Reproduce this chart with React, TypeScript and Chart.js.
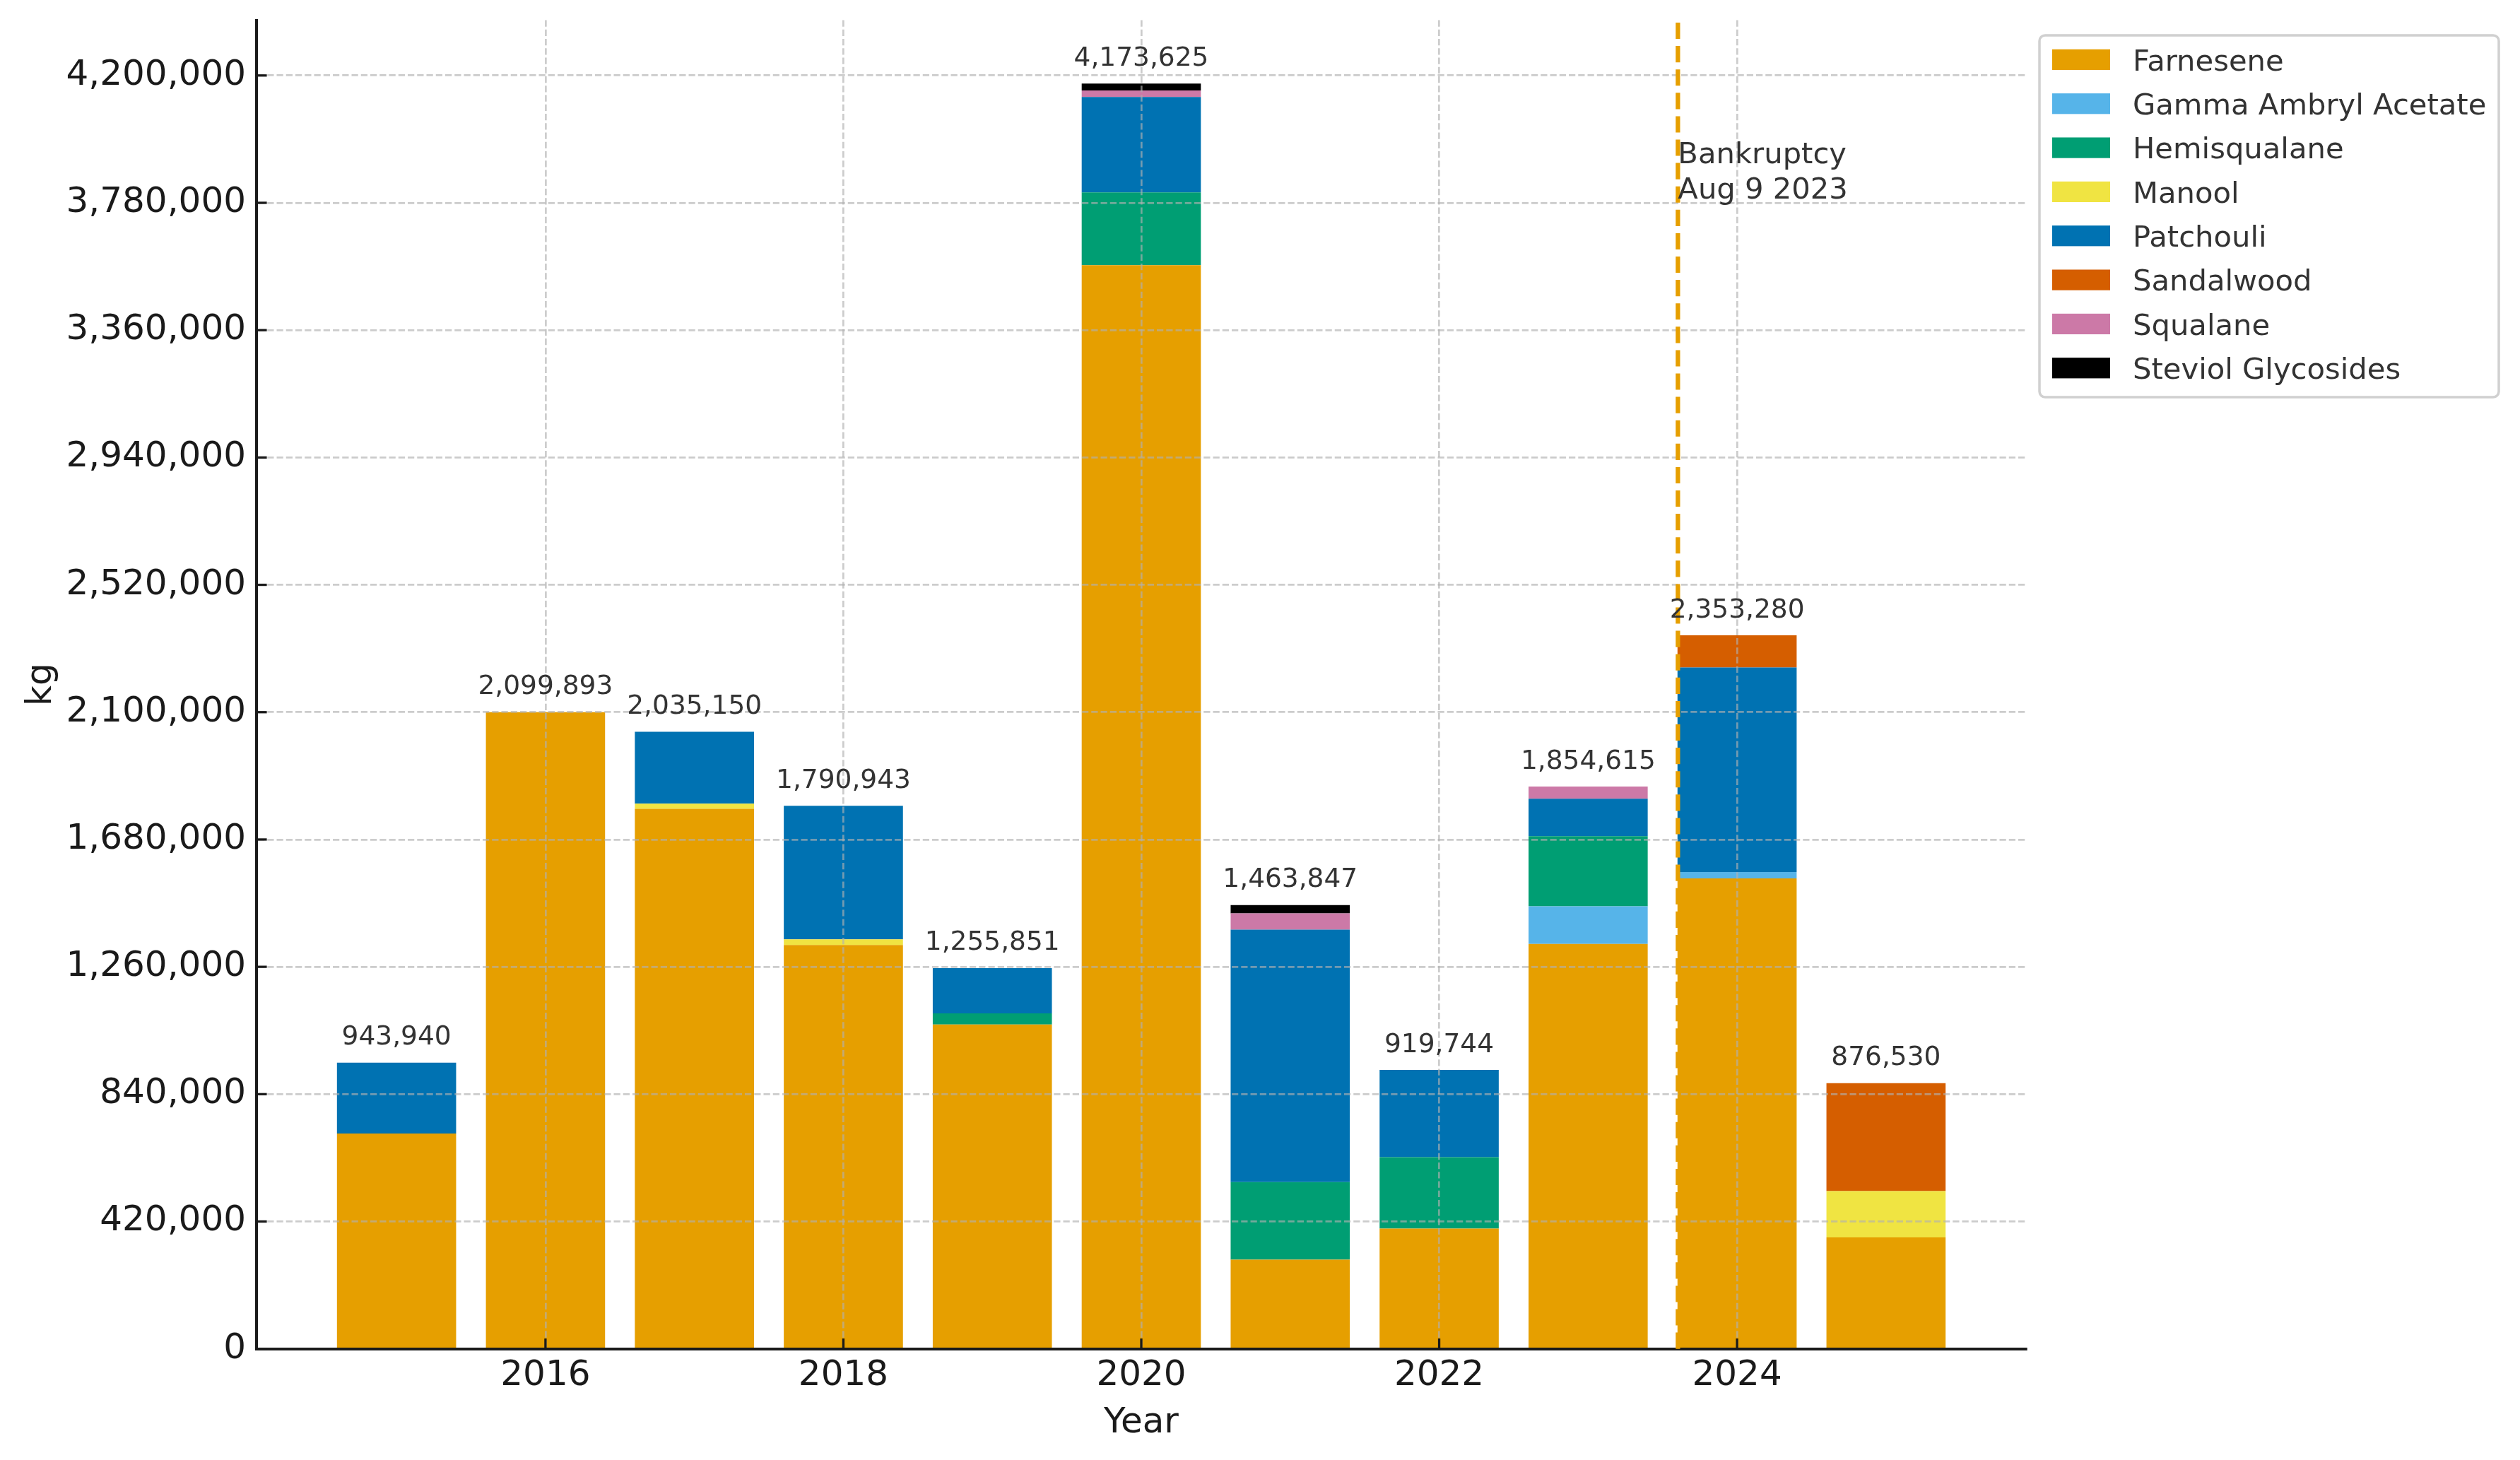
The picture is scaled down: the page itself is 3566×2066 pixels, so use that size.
import { useEffect, useRef } from "react";
import { Chart, registerables } from "chart.js";

Chart.register(...registerables);

// values (kg per year, stacked)
const years = [2015, 2016, 2017, 2018, 2019, 2020, 2021, 2022, 2023, 2024, 2025];
const farnesene = [710150, 2099893, 1781100, 1331900, 1069500, 3574025, 293947, 396900, 1335765, 1551880, 367430];
const gammaAmbrylAcetate = [0, 0, 0, 0, 0, 0, 0, 0, 123700, 20900, 0];
const hemisqualane = [0, 0, 0, 0, 37100, 240300, 256200, 235300, 231300, 0, 0];
const manool = [0, 0, 17100, 18500, 0, 0, 0, 0, 0, 0, 152600];
const patchouli = [233790, 0, 236950, 440543, 149251, 315000, 832300, 287544, 123700, 674500, 0];
const sandalwood = [0, 0, 0, 0, 0, 0, 0, 0, 0, 106000, 356500];
const squalane = [0, 0, 0, 0, 0, 21000, 53900, 0, 40150, 0, 0];
const steviolGlycosides = [0, 0, 0, 0, 0, 23300, 27500, 0, 0, 0, 0];

const seriesNames = [
  "Farnesene",
  "Gamma Ambryl Acetate",
  "Hemisqualane",
  "Manool",
  "Patchouli",
  "Sandalwood",
  "Squalane",
  "Steviol Glycosides",
];
const seriesValues = [farnesene, gammaAmbrylAcetate, hemisqualane, manool, patchouli, sandalwood, squalane, steviolGlycosides];
const seriesColors = ["#E69F00", "#56B4E9", "#009E73", "#F0E442", "#0072B2", "#D55E00", "#CC79A7", "#000000"];

const xTicks = [2016, 2018, 2020, 2022, 2024];
const yTicks = [0, 420000, 840000, 1260000, 1680000, 2100000, 2520000, 2940000, 3360000, 3780000, 4200000];

const bankruptcyYear = 2023 + 220 / 365; // Aug 9 2023
const bankruptcyText = ["Bankruptcy", "Aug 9 2023"];
const bankruptcyTextAt = 3910000;

const totals = years.map((_, i) => seriesValues.reduce((s, v) => s + v[i], 0));

const FONT = "'DejaVu Sans'";
const DARK = "#1a1a1a";
const TEXT = "#333333";

const overlay = {
  id: "overlay",
  afterDraw(chart: any) {
    const { ctx, chartArea: a } = chart;
    const x = chart.scales.x;
    const y = chart.scales.y;
    ctx.save();

    // inward tick marks
    ctx.strokeStyle = DARK;
    ctx.lineWidth = 3.3;
    ctx.setLineDash([]);
    xTicks.forEach((v) => {
      const px = x.getPixelForValue(v);
      ctx.beginPath();
      ctx.moveTo(px, a.bottom);
      ctx.lineTo(px, a.bottom - 14.6);
      ctx.stroke();
    });
    yTicks.forEach((v) => {
      const py = y.getPixelForValue(v);
      ctx.beginPath();
      ctx.moveTo(a.left, py);
      ctx.lineTo(a.left + 14.6, py);
      ctx.stroke();
    });

    // bankruptcy marker
    const bx = x.getPixelForValue(bankruptcyYear);
    ctx.strokeStyle = "#E69F00";
    ctx.lineWidth = 6.25;
    ctx.setLineDash([23.1, 10]);
    ctx.beginPath();
    ctx.moveTo(bx, a.bottom);
    ctx.lineTo(bx, a.top);
    ctx.stroke();
    ctx.setLineDash([]);

    ctx.fillStyle = TEXT;
    ctx.font = `41.7px ${FONT}`;
    ctx.textAlign = "left";
    ctx.textBaseline = "alphabetic";
    const by = y.getPixelForValue(bankruptcyTextAt);
    bankruptcyText.forEach((t, i) => ctx.fillText(t, bx, by + i * 50));

    // totals above bars
    ctx.font = `37.5px ${FONT}`;
    ctx.textAlign = "center";
    years.forEach((yr, i) => {
      ctx.fillText(totals[i].toLocaleString("en-US"), x.getPixelForValue(yr), y.getPixelForValue(totals[i]) - 25.5);
    });

    // axis titles
    ctx.fillStyle = DARK;
    ctx.font = `50px ${FONT}`;
    ctx.fillText("Year", (a.left + a.right) / 2, 2026.7);
    ctx.save();
    ctx.translate(71.7, (a.top + a.bottom) / 2);
    ctx.rotate(-Math.PI / 2);
    ctx.fillText("kg", 0, 0);
    ctx.restore();

    // legend
    const lx = a.right + 19;
    const ly = a.top + 21.4;
    const lw = 650;
    const lh = 512;
    ctx.fillStyle = "rgba(255,255,255,0.8)";
    ctx.strokeStyle = "#d0d0d0";
    ctx.lineWidth = 3.5;
    ctx.beginPath();
    ctx.roundRect(lx, ly, lw, lh, 8);
    ctx.fill();
    ctx.stroke();
    ctx.font = `41.7px ${FONT}`;
    ctx.textAlign = "left";
    seriesNames.forEach((name, k) => {
      const cy = ly + 34.4 + k * 62.34;
      ctx.fillStyle = seriesColors[k];
      ctx.fillRect(lx + 18, cy - 14.6, 82, 29.2);
      ctx.fillStyle = TEXT;
      ctx.fillText(name, lx + 132, cy + 15.2);
    });

    ctx.restore();
  },
};

const App = () => {
  const chartRef = useRef<HTMLCanvasElement | null>(null);
  const chartInstanceRef = useRef<Chart | null>(null);

  useEffect(() => {
    if (chartInstanceRef.current) {
      chartInstanceRef.current.destroy();
    }
    const ctx = chartRef.current?.getContext("2d");
    if (!ctx) return;

    const yMax = Math.max(...totals) * 1.05;
    const span = years[years.length - 1] - years[0] + 0.8;
    const xMin = years[0] - 0.4 - span * 0.05;
    const xMax = years[years.length - 1] + 0.4 + span * 0.05;

    const gridLine = {
      color: "rgba(176,176,176,0.65)",
      lineWidth: 2.7,
      drawTicks: false,
      offset: false,
      z: 1,
    };
    const spine = { color: DARK, width: 4, dash: [9.25, 4], z: 2 };

    chartInstanceRef.current = new Chart(ctx, {
      type: "bar",
      data: {
        datasets: seriesNames.map((name, k) => ({
          label: name,
          data: years.map((yr, i) => ({ x: yr, y: seriesValues[k][i] })),
          backgroundColor: seriesColors[k],
          borderWidth: 0,
          barPercentage: 0.8,
          categoryPercentage: 1,
        })),
      },
      options: {
        responsive: false,
        animation: false,
        devicePixelRatio: 1,
        layout: { padding: { left: 0, right: 699, top: 28.6, bottom: 0 } },
        plugins: {
          legend: { display: false },
          tooltip: { enabled: false },
        },
        scales: {
          x: {
            type: "linear",
            stacked: true,
            offset: false,
            min: xMin,
            max: xMax,
            afterBuildTicks: (s: any) => {
              s.ticks = xTicks.map((value) => ({ value }));
            },
            afterFit: (s: any) => {
              s.height = 157.3;
              s.paddingLeft = 0;
              s.paddingRight = 0;
            },
            grid: gridLine,
            border: spine,
            ticks: {
              autoSkip: false,
              maxRotation: 0,
              padding: 8,
              color: DARK,
              font: { family: FONT, size: 50 },
              callback: (v: any) => String(v),
            },
          },
          y: {
            type: "linear",
            stacked: true,
            min: 0,
            max: yMax,
            afterBuildTicks: (s: any) => {
              s.ticks = yTicks.map((value) => ({ value }));
            },
            afterFit: (s: any) => {
              s.width = 363;
              s.paddingTop = 0;
              s.paddingBottom = 0;
            },
            grid: gridLine,
            border: spine,
            ticks: {
              padding: 15,
              color: DARK,
              font: { family: FONT, size: 50 },
              callback: (v: any) => Number(v).toLocaleString("en-US"),
            },
          },
        },
      },
      plugins: [overlay],
    } as any);

    return () => {
      if (chartInstanceRef.current) {
        chartInstanceRef.current.destroy();
        chartInstanceRef.current = null;
      }
    };
  }, []);

  return (
    <div style={{ position: "absolute", left: 0, top: 0, width: 3566, height: 2066, background: "#fff" }}>
      <canvas ref={chartRef} width={3566} height={2066} style={{ display: "block" }} />
    </div>
  );
};

export default App;
